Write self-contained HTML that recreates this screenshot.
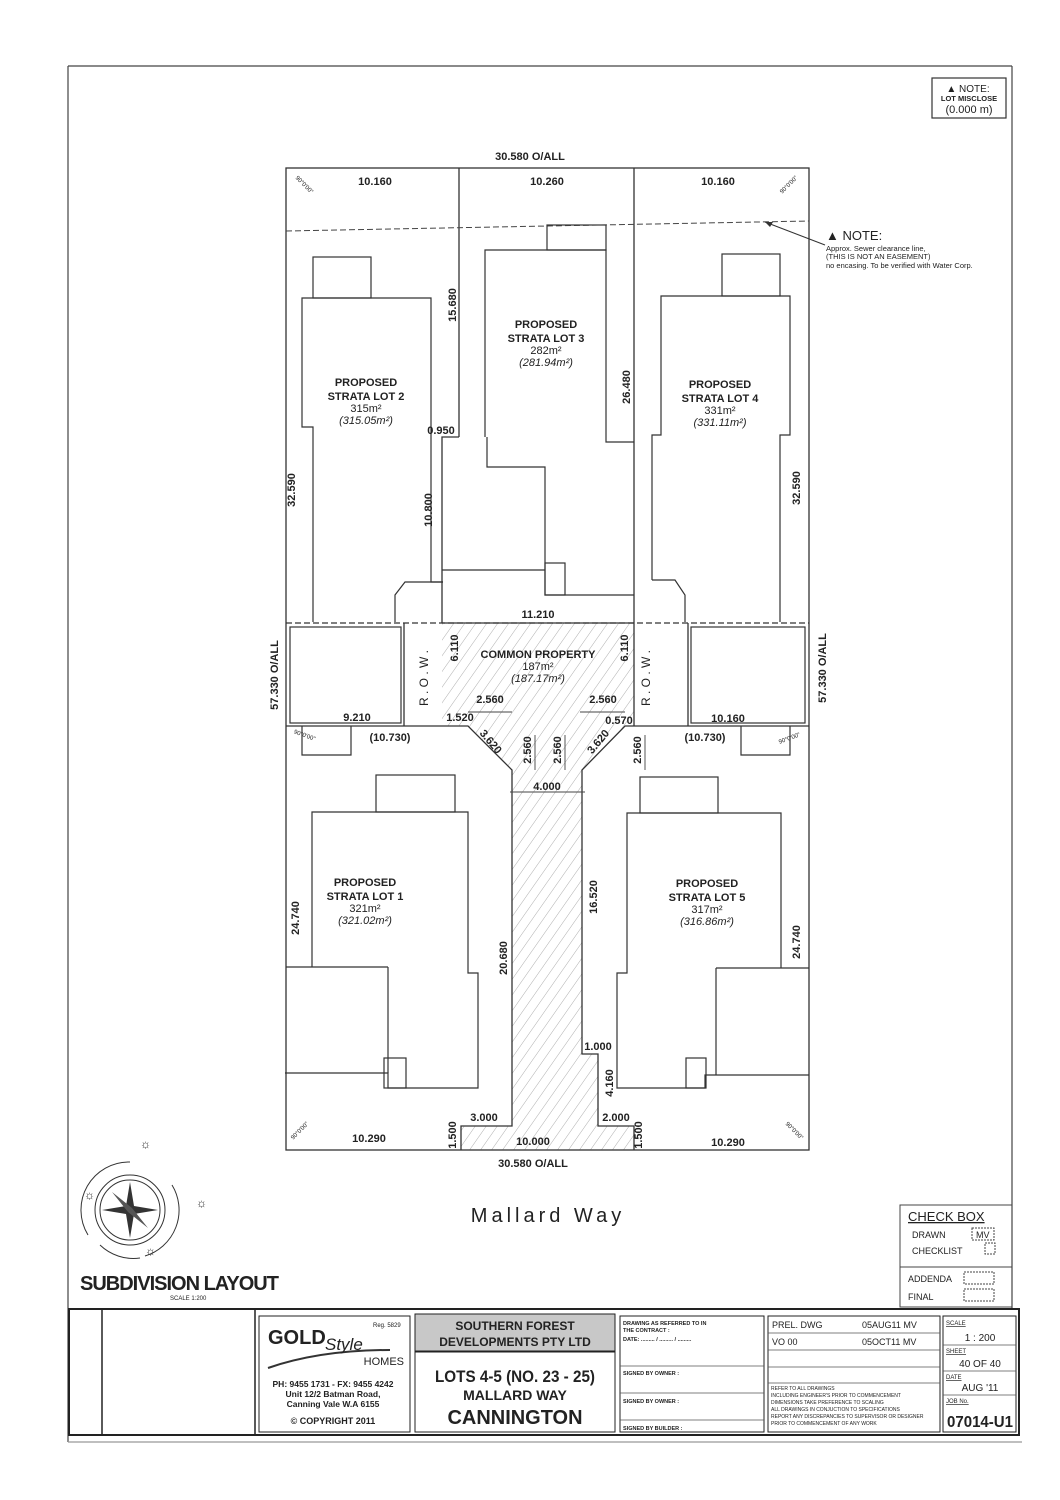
<!DOCTYPE html>
<html><head><meta charset="utf-8"><style>
html,body{margin:0;padding:0;background:#fff}
svg{display:block}
text{font-family:"Liberation Sans",Arial,sans-serif;fill:#222}
.b{font-weight:bold}
</style></head><body>
<svg width="1060" height="1500" viewBox="0 0 1060 1500" xmlns="http://www.w3.org/2000/svg">
<defs>
<pattern id="h" width="9" height="9" patternUnits="userSpaceOnUse" patternTransform="rotate(35)">
<line x1="0" y1="0" x2="0" y2="9" stroke="#999" stroke-width="0.8"/>
</pattern>
</defs>
<g fill="none" stroke="#444" stroke-width="1.2">
<path d="M68,66 H1012 M68,66 V1442 M1012,66 V1310"/>
<line x1="68" y1="1442" x2="1022" y2="1442" stroke="#999"/>
</g>
<rect x="932" y="78" width="74" height="40" fill="none" stroke="#333" stroke-width="1.2"/>
<text x="968" y="92" font-size="10" text-anchor="middle">▲ NOTE:</text>
<text x="969" y="101" font-size="7.5" text-anchor="middle" class="b">LOT MISCLOSE</text>
<text x="969" y="113" font-size="11" text-anchor="middle">(0.000 m)</text>

<path d="M442,623 H634 V726 H625 L582,770 V1054 H598 V1126 H634 V1150 H461 V1126 H512 V770 L468,726 H442 Z" fill="url(#h)"/>

<g fill="none" stroke="#333" stroke-width="1.3">
<rect x="286" y="168" width="523" height="982"/>
<line x1="459" y1="168" x2="459" y2="437"/>
<path d="M459,437 H442 V623"/>
<line x1="634" y1="168" x2="634" y2="726"/>
<line x1="286" y1="623" x2="809" y2="623" stroke-dasharray="6 3"/>
<path d="M286,726 H468 L512,770 V1126 H461 V1150"/>
<path d="M809,726 H625 L582,770 V1054 H598 V1126 H634 V1150"/>
<line x1="404" y1="623" x2="404" y2="726"/>
<line x1="688" y1="623" x2="688" y2="726"/>
<line x1="442" y1="623" x2="634" y2="623"/>
</g>
<line x1="286" y1="231" x2="809" y2="221" stroke="#444" stroke-dasharray="6 3" stroke-width="1"/>
<line x1="765" y1="222" x2="825" y2="245" stroke="#333" stroke-width="1"/>
<path d="M765,222 l8,0 l-3,5 z" fill="#333"/>
<text x="826" y="240" font-size="13">▲ NOTE:</text>
<text x="826" y="251" font-size="7.5">Approx. Sewer clearance line,</text>
<text x="826" y="259" font-size="7.5">(THIS IS NOT AN EASEMENT)</text>
<text x="826" y="268" font-size="7.5">no encasing. To be verified with Water Corp.</text>

<g fill="none" stroke="#333" stroke-width="1.2">
<path d="M313,622 V427 H302 V298 H431 V582 H443"/>
<rect x="313" y="257" width="58" height="41"/>
<path d="M443,582 H405 L395,595 V622"/>
<path d="M485,437 V250 H606 V442 H634 M487,437 V467 H545 V570 H442 M545,570 V595 H634"/>
<rect x="547" y="225" width="59" height="25"/>
<rect x="545" y="563" width="20" height="32"/>
<path d="M652,580 V435 H661 V296 H790 V435 H780 V622"/>
<rect x="722" y="254" width="58" height="42"/>
<path d="M652,580 H675 L685,595 V622"/>
<rect x="290" y="627" width="111" height="96"/>
<rect x="691" y="627" width="114" height="96"/>
<path d="M302,726 V755 H351 V726 M741,726 V755 H790 V726"/>
<path d="M312,967 V812 H468 V973 H478 V1088 H388 V1073 H285"/>
<path d="M388,967 H286 M388,967 V1073"/>
<rect x="376" y="775" width="79" height="37"/>
<rect x="384" y="1058" width="22" height="30"/>
<path d="M781,968 V813 H627 V973 H617 V1088 H705 V1075 H809"/>
<path d="M716,968 H809 M716,968 V1075"/>
<rect x="640" y="777" width="78" height="36"/>
<rect x="686" y="1058" width="20" height="30"/>
<g stroke="#444" stroke-width="0.9">
<line x1="468" y1="712" x2="512" y2="712"/><line x1="580" y1="712" x2="625" y2="712"/>
<line x1="535" y1="735" x2="535" y2="770"/><line x1="565" y1="735" x2="565" y2="770"/>
<line x1="645" y1="735" x2="645" y2="770"/>
<line x1="510" y1="792" x2="585" y2="792"/>
</g>
</g>

<g class="b" font-size="11" text-anchor="middle">
<text x="530" y="160">30.580 O/ALL</text>
<text x="375" y="185">10.160</text><text x="547" y="185">10.260</text><text x="718" y="185">10.160</text>
<text x="366" y="386">PROPOSED</text><text x="366" y="400">STRATA LOT 2</text>
<text x="546" y="328">PROPOSED</text><text x="546" y="342">STRATA LOT 3</text>
<text x="720" y="388">PROPOSED</text><text x="720" y="402">STRATA LOT 4</text>
<text x="365" y="886">PROPOSED</text><text x="365" y="900">STRATA LOT 1</text>
<text x="707" y="887">PROPOSED</text><text x="707" y="901">STRATA LOT 5</text>
<text x="538" y="658">COMMON PROPERTY</text>
<text x="538" y="618">11.210</text>
<text x="357" y="721">9.210</text><text x="390" y="741">(10.730)</text>
<text x="728" y="722">10.160</text><text x="705" y="741">(10.730)</text>
<text x="490" y="703">2.560</text><text x="603" y="703">2.560</text>
<text x="460" y="721">1.520</text><text x="619" y="724">0.570</text>
<text x="547" y="790">4.000</text>
<text x="369" y="1142">10.290</text><text x="533" y="1145">10.000</text><text x="728" y="1146">10.290</text>
<text x="533" y="1167">30.580 O/ALL</text>
<text x="484" y="1121">3.000</text><text x="616" y="1121">2.000</text>
<text x="598" y="1050">1.000</text>
<text x="441" y="434">0.950</text>
</g>
<g font-size="11" text-anchor="middle">
<text x="366" y="412">315m²</text><text x="366" y="424" font-style="italic">(315.05m²)</text>
<text x="546" y="354">282m²</text><text x="546" y="366" font-style="italic">(281.94m²)</text>
<text x="720" y="414">331m²</text><text x="720" y="426" font-style="italic">(331.11m²)</text>
<text x="365" y="912">321m²</text><text x="365" y="924" font-style="italic">(321.02m²)</text>
<text x="707" y="913">317m²</text><text x="707" y="925" font-style="italic">(316.86m²)</text>
<text x="538" y="670">187m²</text><text x="538" y="682" font-style="italic">(187.17m²)</text>
</g>
<g class="b" font-size="11" text-anchor="middle">
<text transform="translate(456,305) rotate(-90)">15.680</text>
<text transform="translate(630,387) rotate(-90)">26.480</text>
<text transform="translate(295,490) rotate(-90)">32.590</text>
<text transform="translate(800,488) rotate(-90)">32.590</text>
<text transform="translate(432,510) rotate(-90)">10.800</text>
<text transform="translate(278,675) rotate(-90)">57.330 O/ALL</text>
<text transform="translate(826,668) rotate(-90)">57.330 O/ALL</text>
<text transform="translate(458,648) rotate(-90)">6.110</text>
<text transform="translate(628,648) rotate(-90)">6.110</text>
<text transform="translate(428,678) rotate(-90)" font-weight="normal" font-size="12">R . O . W .</text>
<text transform="translate(650,678) rotate(-90)" font-weight="normal" font-size="12">R . O . W .</text>
<text transform="translate(531,750) rotate(-90)">2.560</text>
<text transform="translate(561,750) rotate(-90)">2.560</text>
<text transform="translate(641,750) rotate(-90)">2.560</text>
<text transform="translate(488,744) rotate(50)">3.620</text>
<text transform="translate(601,744) rotate(-50)">3.620</text>
<text transform="translate(299,918) rotate(-90)">24.740</text>
<text transform="translate(800,942) rotate(-90)">24.740</text>
<text transform="translate(507,958) rotate(-90)">20.680</text>
<text transform="translate(597,897) rotate(-90)">16.520</text>
<text transform="translate(613,1083) rotate(-90)">4.160</text>
<text transform="translate(456,1135) rotate(-90)">1.500</text>
<text transform="translate(642,1135) rotate(-90)">1.500</text>
</g>
<g font-size="6" text-anchor="middle">
<text transform="translate(303,186) rotate(45)">90°0'00"</text>
<text transform="translate(790,186) rotate(-45)">90°0'00"</text>
<text transform="translate(301,1132) rotate(-45)">90°0'00"</text>
<text transform="translate(793,1132) rotate(45)">90°0'00"</text>
<text transform="translate(304,737) rotate(20)">90°0'00"</text>
<text transform="translate(790,740) rotate(-20)">90°0'00"</text>
</g>

<text x="548" y="1222" font-size="20" text-anchor="middle" letter-spacing="4">Mallard Way</text>

<g fill="none" stroke="#333" stroke-width="1">
<circle cx="130" cy="1210" r="30"/><circle cx="130" cy="1210" r="35"/>
<path d="M88,1235 A48,48 0 0 1 130,1162 M172,1185 A48,48 0 0 1 145,1256 M100,1245 A48,48 0 0 0 140,1258"/>
</g>
<path d="M130,1182 L134,1206 L158,1210 L134,1214 L130,1238 L126,1214 L102,1210 L126,1206 Z" fill="#333"/>
<path d="M112,1192 L132,1208 L148,1228 L128,1212 Z M148,1192 L128,1212 L112,1228 L132,1208Z" fill="#555"/>
<text x="140" y="1148" font-size="12">☼</text><text x="196" y="1207" font-size="12">☼</text>
<text x="84" y="1199" font-size="12">☼</text><text x="145" y="1255" font-size="12">☼</text>
<text x="80" y="1290" font-size="20" class="b" letter-spacing="-1">SUBDIVISION LAYOUT</text>
<text x="170" y="1300" font-size="6">SCALE 1:200</text>

<g fill="none" stroke="#444" stroke-width="1">
<rect x="900" y="1205" width="112" height="102"/>
<line x1="900" y1="1267" x2="1012" y2="1267"/>
<rect x="972" y="1228" width="22" height="12" stroke-dasharray="2 1"/>
<rect x="985" y="1243" width="10" height="11" stroke-dasharray="2 1"/>
<rect x="964" y="1272" width="30" height="12" stroke-dasharray="2 1"/>
<rect x="964" y="1289" width="30" height="12" stroke-dasharray="2 1"/>
</g>
<text x="908" y="1221" font-size="13" text-decoration="underline">CHECK BOX</text>
<text x="912" y="1238" font-size="9">DRAWN</text><text x="976" y="1238" font-size="9">MV</text>
<text x="912" y="1254" font-size="9">CHECKLIST</text>
<text x="908" y="1282" font-size="9">ADDENDA</text>
<text x="908" y="1300" font-size="9">FINAL</text>

<g fill="none" stroke="#222" stroke-width="1.5">
<rect x="69" y="1309" width="950" height="126" stroke-width="2"/>
<line x1="102" y1="1309" x2="102" y2="1435"/>
<line x1="255" y1="1309" x2="255" y2="1435"/>
<rect x="259" y="1316" width="151" height="116" stroke-width="1"/>
<rect x="415" y="1352" width="200" height="80" stroke-width="1"/>
<rect x="620" y="1316" width="144" height="116" stroke-width="1"/>
<rect x="768" y="1316" width="172" height="116" stroke-width="1"/>
<rect x="943" y="1316" width="73" height="116" stroke-width="1"/>
</g>
<rect x="415" y="1314" width="200" height="37" fill="#c8c8c8" stroke="#222"/>
<g stroke="#555" stroke-width="0.8" fill="none">
<line x1="620" y1="1366" x2="764" y2="1366"/><line x1="620" y1="1393" x2="764" y2="1393"/><line x1="620" y1="1420" x2="764" y2="1420"/>
<line x1="768" y1="1333" x2="940" y2="1333"/><line x1="768" y1="1350" x2="940" y2="1350"/><line x1="768" y1="1367" x2="940" y2="1367"/><line x1="768" y1="1383" x2="940" y2="1383"/>
<line x1="943" y1="1345" x2="1016" y2="1345"/><line x1="943" y1="1371" x2="1016" y2="1371"/><line x1="943" y1="1395" x2="1016" y2="1395"/>
<path d="M268,1368 Q320,1350 390,1350" stroke="#333" stroke-width="2"/>
</g>
<text x="268" y="1344" font-size="20" class="b" fill="#555">GOLD</text>
<text x="325" y="1350" font-size="17" font-style="italic" fill="#555">Style</text>
<text x="373" y="1327" font-size="6">Reg. 5829</text>
<text x="404" y="1365" font-size="11" text-anchor="end">HOMES</text>
<text x="333" y="1387" font-size="8.5" class="b" text-anchor="middle">PH: 9455 1731 - FX: 9455 4242</text>
<text x="333" y="1397" font-size="8.5" class="b" text-anchor="middle">Unit 12/2 Batman Road,</text>
<text x="333" y="1407" font-size="8.5" class="b" text-anchor="middle">Canning Vale W.A 6155</text>
<text x="333" y="1424" font-size="9" class="b" text-anchor="middle">© COPYRIGHT 2011</text>
<text x="515" y="1330" font-size="12" class="b" text-anchor="middle">SOUTHERN FOREST</text>
<text x="515" y="1346" font-size="12" class="b" text-anchor="middle">DEVELOPMENTS PTY LTD</text>
<text x="515" y="1382" font-size="17" class="b" text-anchor="middle" textLength="160" lengthAdjust="spacingAndGlyphs">LOTS 4-5 (NO. 23 - 25)</text>
<text x="515" y="1400" font-size="14" class="b" text-anchor="middle">MALLARD WAY</text>
<text x="515" y="1424" font-size="20" class="b" text-anchor="middle" textLength="135" lengthAdjust="spacingAndGlyphs">CANNINGTON</text>
<g font-size="5.5" class="b">
<text x="623" y="1325">DRAWING AS REFERRED TO IN</text><text x="623" y="1332">THE CONTRACT :</text>
<text x="623" y="1341">DATE:  ......... / ......... / .........</text>
<text x="623" y="1375">SIGNED BY OWNER :</text><text x="623" y="1403">SIGNED BY OWNER :</text><text x="623" y="1430">SIGNED BY BUILDER :</text>
</g>
<g font-size="9">
<text x="772" y="1328">PREL. DWG</text><text x="862" y="1328">05AUG11  MV</text>
<text x="772" y="1345">VO 00</text><text x="862" y="1345">05OCT11  MV</text>
</g>
<g font-size="5">
<text x="771" y="1390">REFER TO ALL DRAWINGS</text><text x="771" y="1397">INCLUDING ENGINEER'S PRIOR TO COMMENCEMENT</text>
<text x="771" y="1404">DIMENSIONS TAKE PREFERENCE TO SCALING</text><text x="771" y="1411">ALL DRAWINGS IN CONJUCTION TO SPECIFICATIONS</text>
<text x="771" y="1418">REPORT ANY DISCREPANCIES TO SUPERVISOR OR DESIGNER</text><text x="771" y="1425">PRIOR TO COMMENCEMENT OF ANY WORK</text>
</g>
<g font-size="6" text-decoration="underline">
<text x="946" y="1325">SCALE</text><text x="946" y="1353">SHEET</text><text x="946" y="1379">DATE</text><text x="946" y="1403">JOB No.</text>
</g>
<text x="980" y="1341" font-size="10" text-anchor="middle">1 : 200</text>
<text x="980" y="1367" font-size="10" text-anchor="middle">40 OF 40</text>
<text x="980" y="1391" font-size="10" text-anchor="middle">AUG '11</text>
<text x="980" y="1427" font-size="16" class="b" text-anchor="middle" textLength="66" lengthAdjust="spacingAndGlyphs">07014-U1</text>
</svg>
</body></html>
